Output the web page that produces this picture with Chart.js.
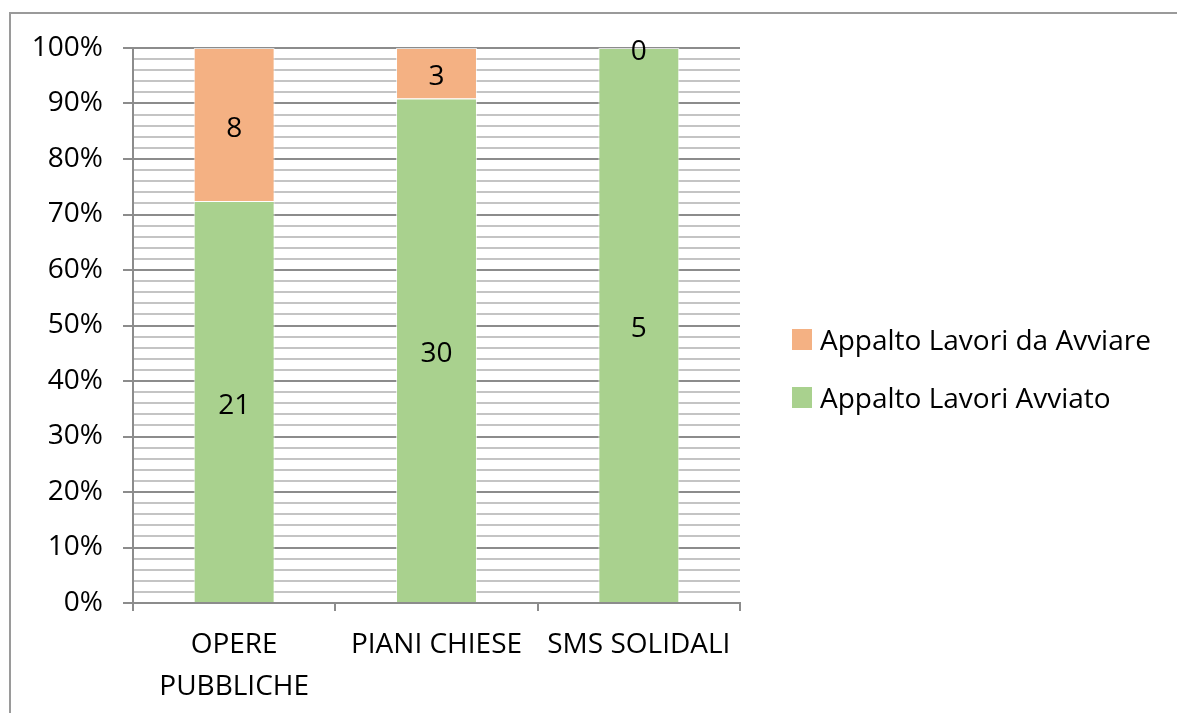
<!DOCTYPE html>
<html>
<head>
<meta charset="utf-8">
<script src="https://cdn.jsdelivr.net/npm/chart.js@4/dist/chart.umd.min.js"></script>
<style>
  html, body { margin: 0; padding: 0; width: 1177px; height: 713px; overflow: hidden; background: #fff; }
  #frame { position: absolute; left: 9px; top: 12px; width: 2000px; height: 2000px; border: 2px solid #9a9a9a; box-sizing: border-box; }
  #wrap { position: absolute; left: 0; top: 0; width: 1177px; height: 713px; }
  #legend { position: absolute; left: 792px; top: 0; font-family: "Open Sans", sans-serif; font-size: 28px; color: #000; }
  .li { position: absolute; left: 0; white-space: nowrap; display: flex; align-items: center; }
  .sw { width: 20px; height: 21px; margin-right: 8px; flex: none; }
</style>
</head>
<body>
<div id="frame"></div>
<div id="wrap"><canvas id="c" width="1177" height="713"></canvas></div>
<div id="legend"></div>
<script>
const categories = [['OPERE', 'PUBBLICHE'], 'PIANI CHIESE', 'SMS SOLIDALI'];
const avviato = [21, 30, 5];
const daAvviare = [8, 3, 0];
const seriesNames = ['Appalto Lavori Avviato', 'Appalto Lavori da Avviare'];
const seriesColors = ['#A9D18E', '#F4B183'];
const legendOrder = [1, 0];
const legendTops = [339, 397];

const totals = avviato.map((v, i) => v + daAvviare[i]);
const pct = arr => arr.map((v, i) => totals[i] ? v / totals[i] * 100 : 0);
const rawSeries = [avviato, daAvviare];

const FONT = '"Open Sans", sans-serif';
const FS = 28;

const labelPlugin = {
  id: 'segLabels',
  afterDatasetsDraw(chart) {
    const ctx = chart.ctx;
    ctx.save();
    ctx.font = FS + 'px ' + FONT;
    ctx.fillStyle = '#000';
    ctx.textAlign = 'center';
    ctx.textBaseline = 'middle';
    chart.data.datasets.forEach((ds, di) => {
      const meta = chart.getDatasetMeta(di);
      meta.data.forEach((el, i) => {
        const y = (el.y + el.base) / 2;
        ctx.fillText(String(rawSeries[di][i]), el.x, y + 4);
      });
    });
    ctx.restore();
  }
};

new Chart(document.getElementById('c'), {
  type: 'bar',
  data: {
    labels: categories,
    datasets: [
      { label: seriesNames[0], data: pct(avviato), backgroundColor: seriesColors[0], borderColor: 'rgba(255,255,255,0.7)', borderWidth: 1, barPercentage: 0.4, categoryPercentage: 1 },
      { label: seriesNames[1], data: pct(daAvviare), backgroundColor: seriesColors[1], borderColor: 'rgba(255,255,255,0.7)', borderWidth: 1, barPercentage: 0.4, categoryPercentage: 1 }
    ]
  },
  options: {
    responsive: false,
    animation: false,
    layout: { padding: { top: 48, left: 0, right: 437, bottom: 0 } },
    plugins: { legend: { display: false }, tooltip: { enabled: false } },
    scales: {
      x: {
        stacked: true,
        afterFit: s => { s.height = 110; },
        grid: { offset: true, drawOnChartArea: false, color: '#8c8c8c', tickColor: '#8c8c8c', tickLength: 8, lineWidth: 2 },
        border: { color: '#8c8c8c', width: 2 },
        ticks: { color: '#000', font: { family: FONT, size: FS, lineHeight: 1.5 }, padding: 13, maxRotation: 0, autoSkip: false }
      },
      y: {
        stacked: true,
        min: 0, max: 100,
        afterFit: s => { s.width = 133; },
        grid: {
          color: c => (c.tick && c.tick.value % 10 === 0) ? '#8c8c8c' : '#c4c4c4',
          tickColor: c => (c.tick && c.tick.value % 10 === 0) ? '#8c8c8c' : 'rgba(0,0,0,0)',
          lineWidth: 2,
          tickLength: 10
        },
        border: { color: '#8c8c8c', width: 2 },
        ticks: {
          stepSize: 2, autoSkip: false, padding: 20, color: '#000',
          font: { family: FONT, size: FS },
          callback: v => (v % 10 === 0) ? v + '%' : ''
        }
      }
    }
  },
  plugins: [labelPlugin]
});

const lg = document.getElementById('legend');
legendOrder.forEach((si, k) => {
  const row = document.createElement('div');
  row.className = 'li';
  row.style.top = (legendTops[k] - 20) + 'px';
  row.style.height = '40px';
  const sw = document.createElement('span');
  sw.className = 'sw';
  sw.style.background = seriesColors[si];
  const tx = document.createElement('span');
  tx.textContent = seriesNames[si];
  row.appendChild(sw); row.appendChild(tx);
  lg.appendChild(row);
});
</script>
</body>
</html>
